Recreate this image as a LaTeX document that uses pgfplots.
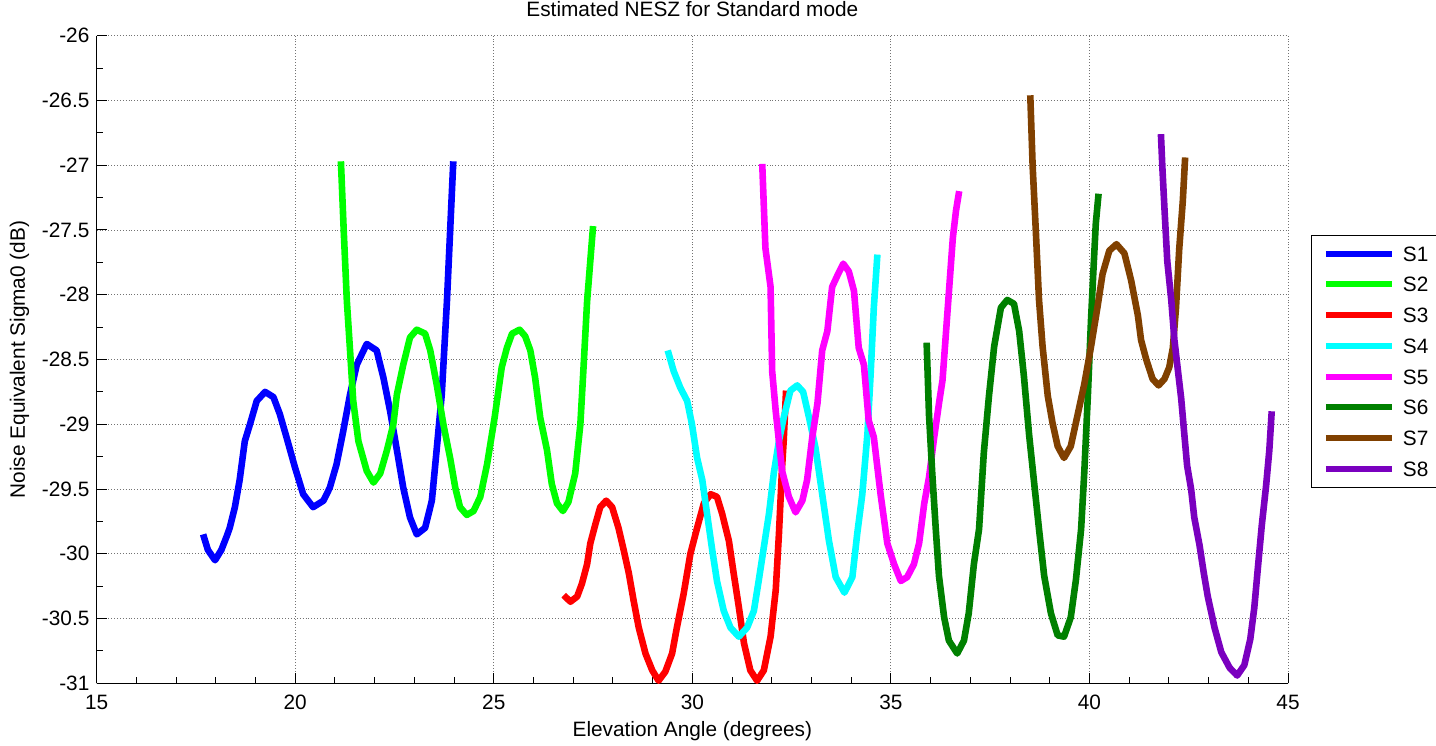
\documentclass[border=0pt]{standalone}
\usepackage{fontspec}
\setmainfont{Liberation Sans}
\usepackage{pgfplots}
\pgfplotsset{compat=1.18}
\definecolor{cS1}{rgb}{0,0,1}
\definecolor{cS2}{rgb}{0,1,0}
\definecolor{cS3}{rgb}{1,0,0}
\definecolor{cS4}{rgb}{0,1,1}
\definecolor{cS5}{rgb}{1,0,1}
\definecolor{cS6}{rgb}{0,0.5,0}
\definecolor{cS7}{rgb}{0.5,0.25,0}
\definecolor{cS8}{rgb}{0.48,0,0.75}
\begin{document}
\fontsize{10.4}{12.5}\selectfont
\begin{tikzpicture}
\begin{axis}[
  scale only axis, width=595.65pt, height=323.8pt,
  xmin=15, xmax=45, ymin=-31, ymax=-26,
  axis x line*=bottom, axis y line*=left,
  axis line style={-, black, line width=0.6pt},
  xtick={15,20,25,30,35,40,45},
  xticklabels={15,20,25,30,35,40,45},
  minor xtick={16,17,18,19,21,22,23,24,26,27,28,29,31,32,33,34,36,37,38,39,41,42,43,44},
  ytick={-31,-30.5,-30,-29.5,-29,-28.5,-28,-27.5,-27,-26.5,-26},
  yticklabels={-31,-30.5,-30,-29.5,-29,-28.5,-28,-27.5,-27,-26.5,-26},
  minor ytick={-30.75,-30.25,-29.75,-29.25,-28.75,-28.25,-27.75,-27.25,-26.75,-26.25},
  tick align=inside,
  major tick length=5pt, minor tick length=3pt,
  every tick/.style={black, line width=0.5pt},
  grid=major,
  major grid style={black!55, line width=0.45pt, densely dotted},
  xticklabel style={anchor=base, yshift=-13.2pt},
  title={Estimated NESZ for Standard mode},
  title style={at={(0.5,1)}, anchor=base, yshift=3.4pt},
  xlabel={Elevation Angle (degrees)},
  xlabel style={at={(0.5,0)}, anchor=base, yshift=-26.7pt},
  ylabel={Noise Equivalent Sigma0 (dB)},
  ylabel style={at={(axis description cs:-0.0602,0.5)}, anchor=base, rotate=0},
  every axis plot/.append style={line width=3.3pt, line join=round},
  legend image code/.code={\draw[#1, line width=3pt] (0pt,0pt) -- (33pt,0pt);},
  legend style={at={(1.0193,0.6923)}, anchor=north west, draw=black, line width=0.5pt,
    fill=white, inner xsep=5.75pt, inner ysep=5.4pt, row sep=7.86pt,
    nodes={inner sep=0pt, text height=7.5pt, text depth=0pt},
    /tikz/every odd column/.append style={column sep=4pt}},
  legend cell align=left,
]
\addplot[cS1] coordinates {(17.68,-29.85) (17.80,-29.97) (17.98,-30.05) (18.14,-29.97) (18.28,-29.86) (18.35,-29.80) (18.48,-29.64) (18.60,-29.43) (18.73,-29.13) (18.86,-29.00) (19.03,-28.82) (19.24,-28.75) (19.45,-28.79) (19.61,-28.92) (19.78,-29.10) (19.99,-29.33) (20.20,-29.54) (20.45,-29.64) (20.71,-29.59) (20.87,-29.49) (21.04,-29.31) (21.21,-29.05) (21.38,-28.77) (21.55,-28.54) (21.80,-28.38) (22.05,-28.43) (22.22,-28.64) (22.39,-28.90) (22.56,-29.20) (22.72,-29.49) (22.89,-29.72) (23.06,-29.85) (23.27,-29.80) (23.44,-29.59) (23.56,-29.20) (23.69,-28.77) (23.82,-28.05) (23.90,-27.51) (23.98,-26.97)};
\addlegendentry{S1}
\addplot[cS2] coordinates {(21.15,-26.97) (21.22,-27.50) (21.30,-28.05) (21.38,-28.43) (21.46,-28.82) (21.59,-29.13) (21.80,-29.36) (21.97,-29.45) (22.14,-29.38) (22.31,-29.20) (22.47,-29.00) (22.56,-28.77) (22.72,-28.54) (22.89,-28.33) (23.06,-28.27) (23.27,-28.30) (23.40,-28.43) (23.56,-28.69) (23.73,-29.00) (23.90,-29.26) (24.03,-29.49) (24.15,-29.64) (24.32,-29.70) (24.49,-29.67) (24.66,-29.56) (24.83,-29.31) (25.02,-28.95) (25.20,-28.56) (25.33,-28.41) (25.46,-28.30) (25.65,-28.27) (25.79,-28.32) (25.92,-28.43) (26.04,-28.64) (26.17,-28.95) (26.34,-29.20) (26.46,-29.46) (26.59,-29.61) (26.74,-29.67) (26.88,-29.60) (27.05,-29.38) (27.18,-29.00) (27.26,-28.56) (27.35,-28.05) (27.43,-27.74) (27.50,-27.47)};
\addlegendentry{S2}
\addplot[cS3] coordinates {(26.76,-30.32) (26.93,-30.37) (27.10,-30.33) (27.22,-30.23) (27.35,-30.08) (27.43,-29.92) (27.56,-29.77) (27.68,-29.64) (27.83,-29.59) (27.98,-29.64) (28.14,-29.80) (28.27,-29.97) (28.40,-30.15) (28.52,-30.36) (28.65,-30.57) (28.82,-30.77) (28.99,-30.90) (29.15,-30.98) (29.32,-30.91) (29.49,-30.77) (29.61,-30.57) (29.78,-30.31) (29.95,-30.00) (30.12,-29.80) (30.29,-29.61) (30.46,-29.54) (30.62,-29.56) (30.75,-29.69) (30.92,-29.90) (31.04,-30.15) (31.17,-30.41) (31.30,-30.69) (31.46,-30.90) (31.63,-30.98) (31.80,-30.90) (31.97,-30.64) (32.10,-30.28) (32.18,-29.85) (32.26,-29.33) (32.30,-29.13) (32.36,-28.74)};
\addlegendentry{S3}
\addplot[cS4] coordinates {(29.38,-28.43) (29.53,-28.59) (29.70,-28.72) (29.87,-28.82) (29.99,-29.00) (30.12,-29.26) (30.25,-29.43) (30.37,-29.69) (30.50,-29.97) (30.62,-30.21) (30.79,-30.44) (30.96,-30.57) (31.17,-30.64) (31.38,-30.57) (31.55,-30.44) (31.67,-30.21) (31.80,-29.95) (31.93,-29.69) (32.05,-29.38) (32.18,-29.13) (32.30,-28.95) (32.47,-28.74) (32.64,-28.70) (32.79,-28.75) (32.94,-28.95) (33.10,-29.18) (33.27,-29.54) (33.44,-29.90) (33.61,-30.18) (33.83,-30.30) (34.03,-30.18) (34.15,-29.85) (34.28,-29.54) (34.41,-29.07) (34.49,-28.61) (34.57,-28.10) (34.66,-27.69)};
\addlegendentry{S4}
\addplot[cS5] coordinates {(31.76,-26.99) (31.84,-27.64) (31.97,-27.94) (32.01,-28.59) (32.10,-28.90) (32.26,-29.36) (32.43,-29.56) (32.60,-29.68) (32.77,-29.59) (32.89,-29.43) (33.02,-29.10) (33.15,-28.84) (33.27,-28.43) (33.40,-28.28) (33.52,-27.94) (33.67,-27.84) (33.80,-27.76) (33.94,-27.82) (34.07,-27.97) (34.19,-28.41) (34.32,-28.54) (34.44,-28.97) (34.57,-29.10) (34.74,-29.54) (34.91,-29.92) (35.08,-30.08) (35.25,-30.21) (35.41,-30.18) (35.58,-30.08) (35.71,-29.92) (35.84,-29.61) (35.96,-29.41) (36.09,-29.10) (36.22,-28.82) (36.30,-28.66) (36.39,-28.28) (36.47,-27.94) (36.56,-27.56) (36.64,-27.35) (36.72,-27.20)};
\addlegendentry{S5}
\addplot[cS6] coordinates {(35.90,-28.37) (35.96,-28.93) (36.04,-29.37) (36.13,-29.81) (36.21,-30.17) (36.34,-30.49) (36.46,-30.67) (36.67,-30.77) (36.84,-30.67) (36.96,-30.46) (37.09,-30.08) (37.22,-29.81) (37.34,-29.22) (37.47,-28.78) (37.60,-28.40) (37.77,-28.10) (37.93,-28.04) (38.10,-28.07) (38.23,-28.28) (38.35,-28.63) (38.48,-29.08) (38.61,-29.46) (38.73,-29.81) (38.86,-30.17) (39.03,-30.46) (39.20,-30.63) (39.36,-30.64) (39.53,-30.49) (39.66,-30.20) (39.79,-29.81) (39.87,-29.37) (39.96,-28.78) (40.04,-28.19) (40.11,-27.75) (40.16,-27.45) (40.23,-27.22)};
\addlegendentry{S6}
\addplot[cS7] coordinates {(38.51,-26.46) (38.57,-27.01) (38.65,-27.51) (38.73,-28.04) (38.82,-28.40) (38.95,-28.78) (39.07,-28.99) (39.20,-29.17) (39.36,-29.26) (39.53,-29.17) (39.70,-28.93) (39.87,-28.69) (40.04,-28.40) (40.20,-28.10) (40.33,-27.84) (40.50,-27.66) (40.68,-27.61) (40.88,-27.68) (41.05,-27.89) (41.22,-28.16) (41.30,-28.35) (41.43,-28.50) (41.59,-28.65) (41.74,-28.70) (41.89,-28.65) (42.01,-28.56) (42.10,-28.41) (42.18,-28.10) (42.26,-27.65) (42.35,-27.28) (42.41,-26.94)};
\addlegendentry{S7}
\addplot[cS8] coordinates {(41.80,-26.76) (41.84,-27.04) (41.89,-27.34) (41.96,-27.74) (42.06,-28.04) (42.14,-28.35) (42.23,-28.59) (42.31,-28.80) (42.39,-29.08) (42.46,-29.32) (42.56,-29.50) (42.64,-29.72) (42.77,-29.93) (42.88,-30.15) (42.98,-30.33) (43.15,-30.57) (43.32,-30.76) (43.53,-30.88) (43.72,-30.94) (43.90,-30.86) (44.05,-30.66) (44.15,-30.42) (44.25,-30.08) (44.34,-29.78) (44.45,-29.47) (44.53,-29.20) (44.59,-28.90)};
\addlegendentry{S8}
\end{axis}
\pgfresetboundingbox
\path (-48.35pt,-30.85pt) rectangle (669.65pt,341.65pt);
\end{tikzpicture}
\end{document}
